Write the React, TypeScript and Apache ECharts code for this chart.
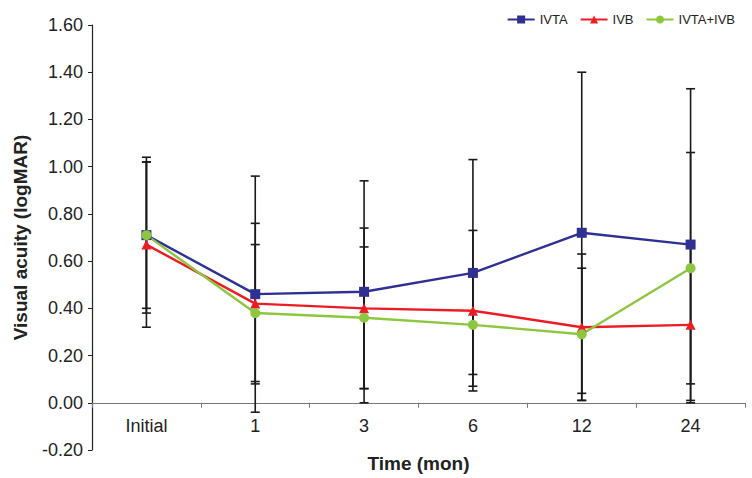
import React, { useEffect, useRef } from "react";
import * as echarts from "echarts";

const categories = ["Initial", "1", "3", "6", "12", "24"];
const ivtaMean = [0.71, 0.46, 0.47, 0.55, 0.72, 0.67];
const ivtaSD = [0.33, 0.50, 0.47, 0.48, 0.68, 0.66];
const ivbMean = [0.67, 0.42, 0.40, 0.39, 0.32, 0.33];
const ivbSD = [0.35, 0.34, 0.34, 0.34, 0.31, 0.33];
const comboMean = [0.71, 0.38, 0.36, 0.33, 0.29, 0.57];
const comboSD = [0.31, 0.29, 0.30, 0.21, 0.28, 0.49];

const FONT = "'Liberation Sans', Arial, sans-serif";

function errData(mean: number[], sd: number[]) {
  return mean.map((m, i) => [i, +(m - sd[i]).toFixed(3), +(m + sd[i]).toFixed(3)]);
}

function errSeries(name: string, mean: number[], sd: number[]) {
  return {
    type: "custom",
    name: name + " SD",
    z: 1,
    silent: true,
    encode: { x: 0, y: [1, 2] },
    data: errData(mean, sd),
    renderItem: (params: any, api: any) => {
      const x = api.value(0);
      const lo = api.value(1);
      const hi = api.value(2);
      const pHi = api.coord([x, hi]);
      const pLo = api.coord([x, lo]);
      const hw = 4.5;
      const style = { stroke: "#1a1a1a", lineWidth: 1.6 };
      return {
        type: "group",
        children: [
          { type: "line", shape: { x1: pHi[0], y1: pHi[1], x2: pLo[0], y2: pLo[1] }, style },
          { type: "line", shape: { x1: pHi[0] - hw, y1: pHi[1], x2: pHi[0] + hw, y2: pHi[1] }, style },
          { type: "line", shape: { x1: pLo[0] - hw, y1: pLo[1], x2: pLo[0] + hw, y2: pLo[1] }, style },
        ],
      };
    },
  };
}

function lineSeries(name: string, data: number[], color: string, symbol: string, size: number) {
  return {
    type: "line",
    name,
    z: 3,
    data,
    symbol,
    symbolSize: size,
    lineStyle: { color, width: 2.4 },
    itemStyle: { color },
  };
}

export default function App() {
  const ref = useRef<HTMLDivElement>(null);
  useEffect(() => {
    document.body.style.margin = "0";
    const chart = echarts.init(ref.current!, null, { renderer: "svg" });
    chart.setOption({
      animation: false,
      backgroundColor: "#ffffff",
      grid: { left: 92, right: 7, top: 25, bottom: 28, containLabel: false, outerBoundsMode: "none" },
      legend: {
        data: ["IVTA", "IVB", "IVTA+IVB"],
        right: 12,
        top: 8,
        itemWidth: 27,
        itemHeight: 10,
        itemGap: 12,
        textStyle: { fontFamily: FONT, fontSize: 13, color: "#222" },
      },
      xAxis: {
        type: "category",
        data: categories,
        boundaryGap: true,
        name: "Time (mon)",
        nameLocation: "middle",
        nameGap: 4,
        nameTextStyle: { fontFamily: FONT, fontSize: 19, fontWeight: "bold", color: "#222" },
        axisLine: { onZero: true, lineStyle: { color: "#777", width: 1.2 } },
        axisTick: { show: true, inside: false, length: 5, lineStyle: { color: "#777" } },
        axisLabel: { fontFamily: FONT, fontSize: 18, color: "#222", margin: -33 },
        splitLine: { show: false },
      },
      yAxis: {
        type: "value",
        min: -0.2,
        max: 1.6,
        interval: 0.2,
        name: "Visual acuity (logMAR)",
        nameLocation: "middle",
        nameGap: 62,
        nameTextStyle: { fontFamily: FONT, fontSize: 19, fontWeight: "bold", color: "#222" },
        axisLine: { show: true, lineStyle: { color: "#222", width: 1.2 } },
        axisTick: { show: true, length: 4, lineStyle: { color: "#222" } },
        axisLabel: {
          fontFamily: FONT,
          fontSize: 18,
          color: "#222",
          margin: 9,
          formatter: (v: number) => v.toFixed(2),
        },
        splitLine: { show: false },
      },
      series: [
        errSeries("IVTA", ivtaMean, ivtaSD),
        errSeries("IVB", ivbMean, ivbSD),
        errSeries("IVTA+IVB", comboMean, comboSD),
        lineSeries("IVTA", ivtaMean, "#2e3192", "rect", 10),
        lineSeries("IVB", ivbMean, "#ed1c24", "triangle", 10),
        lineSeries("IVTA+IVB", comboMean, "#8dc63f", "circle", 10),
      ],
    });
    return () => chart.dispose();
  }, []);
  return (
    <div
      ref={ref}
      style={{ width: 752, height: 478, position: "absolute", left: 0, top: 0 }}
    />
  );
}
